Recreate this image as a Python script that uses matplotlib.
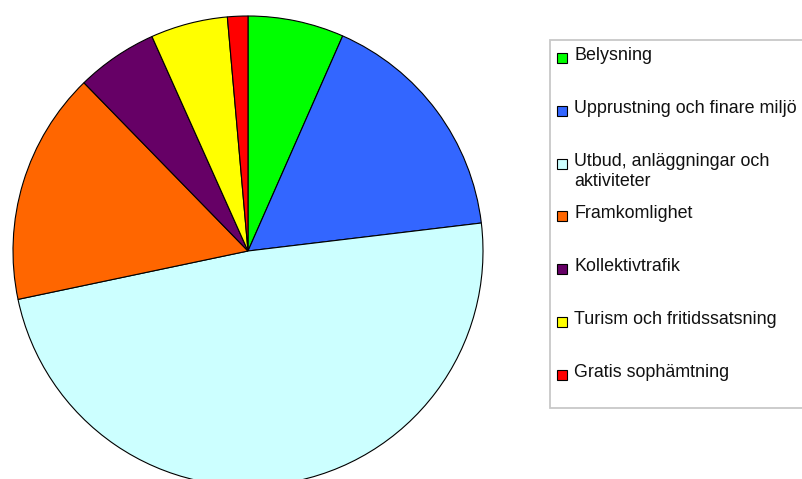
import matplotlib

matplotlib.use("Agg")
import matplotlib.pyplot as plt
from matplotlib.patches import Rectangle


categories = [
    "Belysning",
    "Upprustning och finare miljö",
    "Utbud, anläggningar och\naktiviteter",
    "Framkomlighet",
    "Kollektivtrafik",
    "Turism och fritidssatsning",
    "Gratis sophämtning",
]
shares = [6.6, 16.5, 48.6, 16.0, 5.6, 5.3, 1.4]
sliceColors = [
    "#00ff00",
    "#3366ff",
    "#ccffff",
    "#ff6600",
    "#660066",
    "#ffff00",
    "#ff0000",
]


# Draws the pie in its own square axes.
def plotPie(fig):
    widthPx, heightPx = 802.0, 479.0
    ax = fig.add_axes([13 / widthPx, -7 / heightPx, 470 / widthPx, 470 / heightPx])
    ax.pie(
        shares,
        colors=sliceColors,
        startangle=90,
        counterclock=False,
        radius=1.0,
        wedgeprops={"edgecolor": "black", "linewidth": 0.8},
    )
    ax.set_xlim(-1.0, 1.0)
    ax.set_ylim(-1.0, 1.0)
    ax.set_aspect("equal")
    ax.axis("off")


# Draws the boxed legend with fixed row steps like the original export.
def plotLegend(fig):
    ax = fig.add_axes([0, 0, 1, 1], zorder=-1)
    ax.set_xlim(0, 802)
    ax.set_ylim(479, 0)
    ax.axis("off")
    ax.add_patch(
        Rectangle(
            (550, 40),
            270,
            368,
            facecolor="white",
            edgecolor="#c8c8c8",
            linewidth=1.3,
        )
    )
    firstRowY = 57.0
    rowStep = 52.8
    for rowIndex, (label, color) in enumerate(zip(categories, sliceColors)):
        rowY = firstRowY + rowIndex * rowStep
        ax.add_patch(
            Rectangle(
                (557, rowY - 4),
                10,
                10,
                facecolor=color,
                edgecolor="black",
                linewidth=0.8,
            )
        )
        ax.text(
            574,
            rowY - 10,
            label,
            ha="left",
            va="top",
            fontsize=12.9,
            family=["Liberation Sans", "DejaVu Sans"],
            color="#111111",
            linespacing=1.3,
        )


def runHarness():
    fig = plt.figure(figsize=(8.02, 4.79), dpi=100)
    fig.patch.set_facecolor("white")
    plotLegend(fig)
    plotPie(fig)
    fig.savefig("out.png", dpi=100)
    plt.close(fig)


if __name__ == "__main__":
    runHarness()
